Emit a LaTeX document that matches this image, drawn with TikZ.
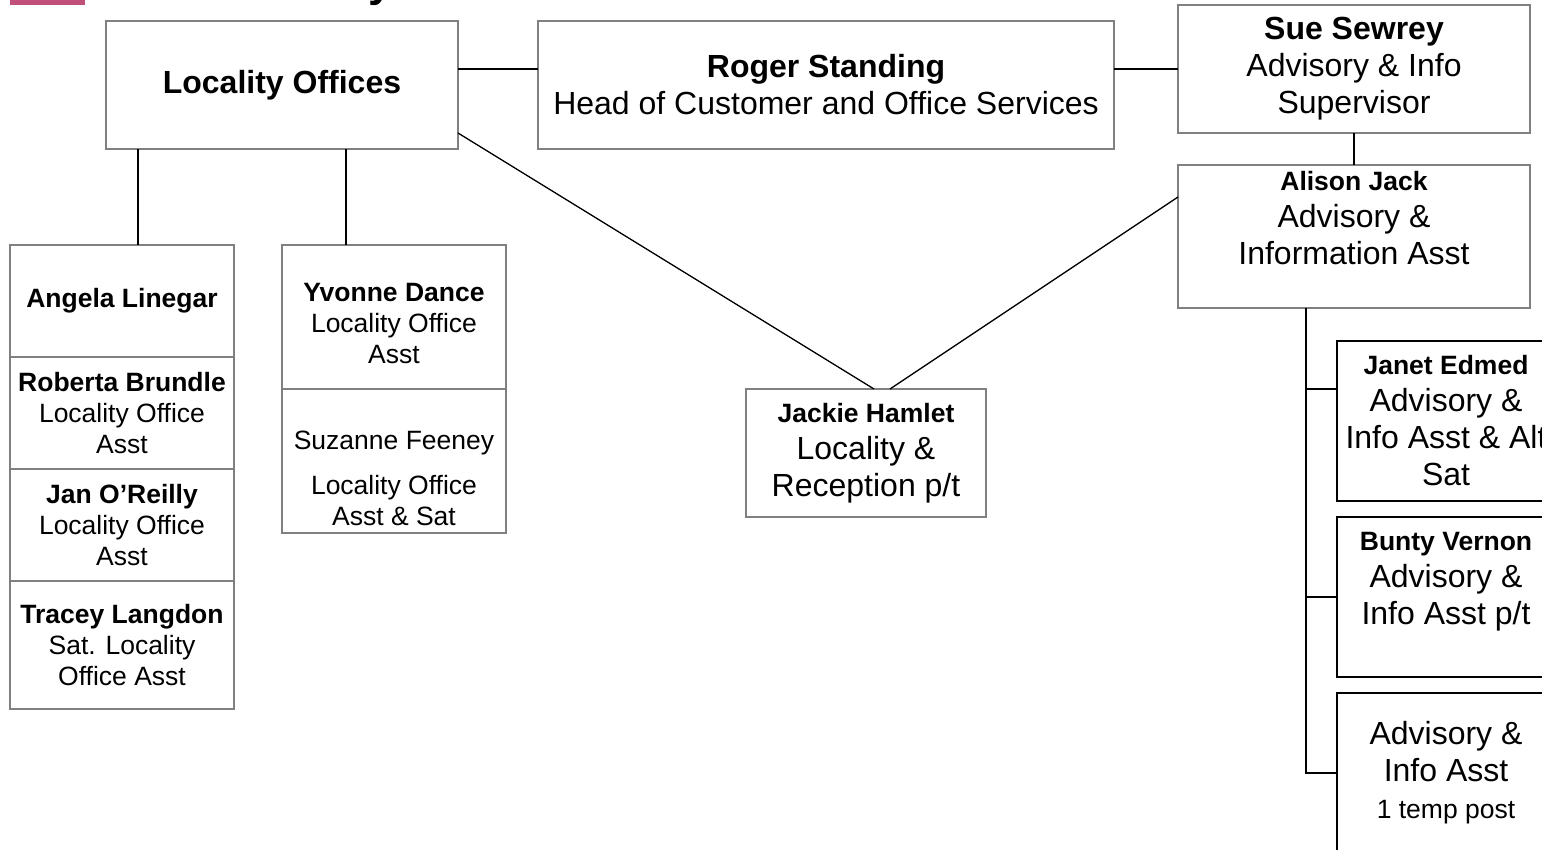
\documentclass[tikz,border=0pt]{standalone}
\usepackage{fontspec}
\setmainfont{Liberation Sans}
\usetikzlibrary{positioning}

\definecolor{titlepink}{RGB}{192,80,122}
\newcommand{\lgtxt}{\fontsize{32}{37}\selectfont}
\newcommand{\smtxt}{\fontsize{26.5}{31}\selectfont}

\tikzset{
postbox/.style={draw=gray, line width=1.3pt, fill=white, outer sep=0pt,
  inner sep=2pt, align=center, font=\smtxt, minimum width=224pt},
advbox/.style={draw=black, line width=2pt, fill=white, outer sep=0pt,
  inner sep=2pt, align=center, font=\lgtxt, minimum width=218pt,
  minimum height=160pt},
orgline/.style={line width=1.8pt},
diagline/.style={line width=1.3pt},
}

\begin{document}
\begin{tikzpicture}[x=1pt,y=-1pt]
\useasboundingbox (0,0) rectangle (1542,850);
\clip (0,0) rectangle (1542,850);

% title strip (cut off at the top)
\fill[titlepink] (10,0) rectangle (85,5);
\node[anchor=base, inner sep=0pt, font=\fontsize{44}{52}\selectfont\bfseries]
  (titletail) at (381,-3) {y};

% top row
\node[postbox, font=\lgtxt\bfseries, minimum width=352pt, minimum height=128pt]
  (offices) at (282,85) {Locality Offices};
\node[postbox, font=\lgtxt, minimum width=576pt, minimum height=128pt]
  (roger) at (826,85) {\textbf{Roger Standing}\\Head of Customer and Office Services};
\node[postbox, font=\lgtxt, minimum width=352pt, minimum height=128pt]
  (sue) at (1354,69) {\textbf{Sue Sewrey}\\Advisory \& Info\\Supervisor};
\node[postbox, font=\lgtxt, minimum width=352pt, minimum height=143pt, below=32pt of sue]
  (alison) {{\smtxt\bfseries Alison Jack}\\Advisory \&\\Information Asst\\\mbox{}};

% locality office staff
\node[postbox, minimum height=112pt] (angela) at (122,301) {\textbf{Angela Linegar}};
\node[postbox, minimum height=112pt, below=0pt of angela]
  (roberta) {\textbf{Roberta Brundle}\\Locality Office\\Asst};
\node[postbox, minimum height=112pt, below=0pt of roberta]
  (jan) {\textbf{Jan O’Reilly}\\Locality Office\\Asst};
\node[postbox, minimum height=128pt, below=0pt of jan]
  (tracey) {\textbf{Tracey Langdon}\\Sat. Locality\\Office Asst};

\node[postbox, minimum height=144pt] (yvonne) at (394,317)
  {\mbox{}\\\textbf{Yvonne Dance}\\Locality Office\\Asst};
\node[postbox, minimum height=144pt, below=0pt of yvonne]
  (suzanne) {\mbox{}\\[23pt]Suzanne Feeney\\[14pt]Locality Office\\Asst \& Sat};

\node[postbox, font=\lgtxt, minimum width=240pt, minimum height=128pt]
  (jackie) at (866,453) {{\smtxt\bfseries Jackie Hamlet}\\Locality \&\\Reception p/t};

% advisory team
\node[advbox] (janet) at (1446,421)
  {{\smtxt\bfseries Janet Edmed}\\Advisory \&\\Info Asst \& Alt\\Sat};
\node[advbox, below=16pt of janet]
  (bunty) {{\smtxt\bfseries Bunty Vernon}\\Advisory \&\\Info Asst p/t\\\mbox{}};
\node[advbox, below=16pt of bunty]
  (temppost) {Advisory \&\\Info Asst\\{\smtxt 1 temp post}};

% reporting lines
\draw[orgline] ([yshift=16pt]offices.east) -- ([yshift=16pt]roger.west);
\draw[orgline] (roger.east |- sue.west) -- (sue.west);
\draw[orgline] (sue.south) -- (alison.north);

\coordinate (angelain) at ([xshift=16pt]angela.north);
\coordinate (yvonnein) at ([xshift=-48pt]yvonne.north);
\draw[orgline] (angelain) -- (angelain |- offices.south);
\draw[orgline] (yvonnein) -- (yvonnein |- offices.south);

\draw[diagline] ([yshift=16pt]offices.south east) -- ([xshift=8pt]jackie.north);
\draw[diagline] ([yshift=-32pt]alison.north west) -- ([xshift=24pt]jackie.north);

\coordinate (trunk) at ([xshift=-48pt]alison.south);
\coordinate (janetin) at ([yshift=32pt]janet.west);
\draw[orgline] (trunk) |- (temppost.west);
\draw[orgline] (trunk |- janetin) -- (janetin);
\draw[orgline] (trunk |- bunty.west) -- (bunty.west);
\end{tikzpicture}
\end{document}
